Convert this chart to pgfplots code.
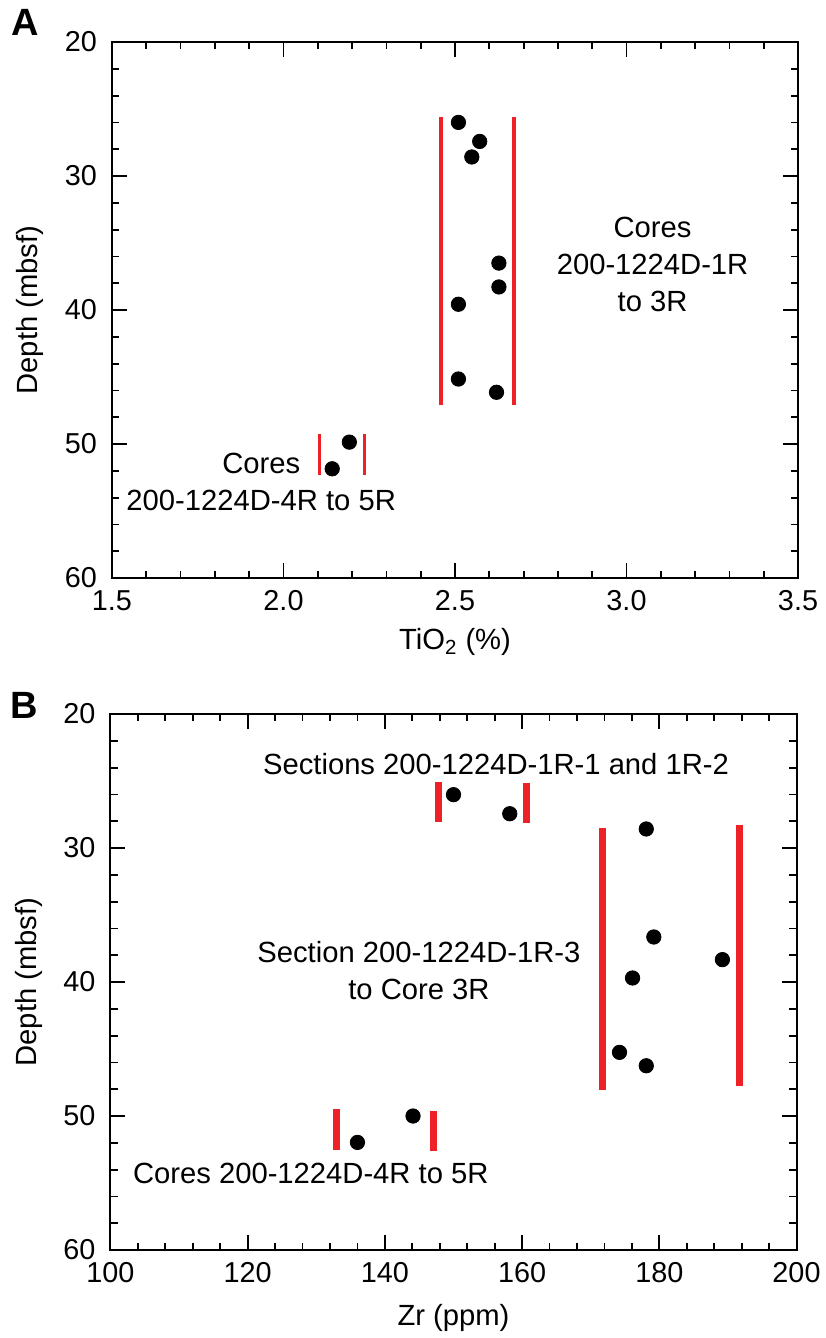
\documentclass[border=0pt]{standalone}
\usepackage{fontspec}
\setmainfont{Liberation Sans}
\usepackage{pgfplots}
\pgfplotsset{compat=1.18}
\definecolor{barred}{RGB}{236,34,39}

\newcommand{\fs}{\fontsize{14.6}{18.5}\selectfont}

\pgfplotsset{
  depthaxis/.style={
    scale only axis, width=343pt, height=268pt,
    y dir=reverse, ymin=20, ymax=60,
    ytick={20,30,40,50,60}, minor y tick num=4,
    tick align=inside, tick pos=both,
    major tick length=7.3pt, minor tick length=3.7pt,
    tick style={black, line width=0.9pt},
    axis line style={line width=1pt},
    /pgf/number format/assume math mode=true,
    tick label style={font=\fontsize{14.4}{16}\selectfont},
    yticklabel style={xshift=-4pt},
    xticklabel style={yshift=-2.6pt},
    every axis y label/.style={at={(axis description cs:-0.1195,0.5)}, rotate=90, anchor=center, font=\fs},
    ylabel={Depth (mbsf)},
    clip=false,
  },
  dot/.style={only marks, mark=*, mark size=3.6pt, black, forget plot},
  rbar/.style={barred, line width=#1, line cap=butt, forget plot},
}

\begin{document}
\begin{tikzpicture}
\useasboundingbox (-56pt,-380pt) rectangle (356.5pt,289pt);

% Panel A
\begin{axis}[depthaxis, at={(0pt,0pt)}, anchor=south west,
  xmin=1.5, xmax=3.5, xtick={1.5,2.0,2.5,3.0,3.5}, minor x tick num=4,
  xticklabel={\pgfmathprintnumber[fixed,fixed zerofill,precision=1]{\tick}},
  every axis x label/.style={at={(axis description cs:0.5,-0.134)}, anchor=base, font=\fs},
  xlabel={TiO\textsubscript{2} (\%)}]
  \addplot[rbar=1.7pt] coordinates {(2.459,25.56) (2.459,47.06)};
  \addplot[rbar=1.7pt] coordinates {(2.672,25.56) (2.672,47.06)};
  \addplot[rbar=1.7pt] coordinates {(2.105,49.29) (2.105,52.29)};
  \addplot[rbar=1.7pt] coordinates {(2.237,49.29) (2.237,52.29)};
  \addplot[dot] coordinates {
    (2.51,26.0) (2.572,27.42) (2.549,28.58) (2.628,36.5) (2.628,38.28)
    (2.51,39.57) (2.51,45.15) (2.621,46.14) (2.192,49.86) (2.142,51.85)
  };
  \node[font=\fs, align=center] at (axis cs:3.076,36.6) {Cores\\200-1224D-1R\\to 3R};
  \node[font=\fs, align=center] at (axis cs:1.935,52.8) {Cores\\200-1224D-4R to 5R};
  \node[font=\bfseries\fontsize{19}{21}\selectfont] at (rel axis cs:0,1) [xshift=-43.5pt, yshift=10pt] {A};
\end{axis}

% Panel B
\begin{axis}[depthaxis, at={(-0.75pt,-336pt)}, anchor=south west,
  xmin=100, xmax=200, xtick={100,120,140,160,180,200}, minor x tick num=4,
  every axis x label/.style={at={(axis description cs:0.5,-0.14)}, anchor=base, font=\fs},
  xlabel={Zr (ppm)}]
  \addplot[rbar=3.6pt] coordinates {(147.8,25.07) (147.8,28.09)};
  \addplot[rbar=3.6pt] coordinates {(160.6,25.15) (160.6,28.13)};
  \addplot[rbar=3.6pt] coordinates {(171.7,28.5) (171.7,48.04)};
  \addplot[rbar=3.6pt] coordinates {(191.7,28.26) (191.7,47.79)};
  \addplot[rbar=3.6pt] coordinates {(132.9,49.48) (132.9,52.5)};
  \addplot[rbar=3.6pt] coordinates {(147.05,49.6) (147.05,52.6)};
  \addplot[dot] coordinates {
    (150.0,26.02) (158.2,27.44) (178.1,28.58) (179.2,36.64) (189.2,38.33)
    (176.1,39.7) (174.2,45.25) (178.1,46.25) (144.1,50.0) (136.0,51.97)
  };
  \node[font=\fs] at (axis cs:156.2,23.7) {Sections 200-1224D-1R-1 and 1R-2};
  \node[font=\fs, align=center] at (axis cs:144.96,39.16) {Section 200-1224D-1R-3\\to Core 3R};
  \node[font=\fs] at (axis cs:129.2,54.25) {Cores 200-1224D-4R to 5R};
  \node[font=\bfseries\fontsize{19}{21}\selectfont] at (rel axis cs:0,1) [xshift=-43pt, yshift=4.5pt] {B};
\end{axis}
\end{tikzpicture}
\end{document}
